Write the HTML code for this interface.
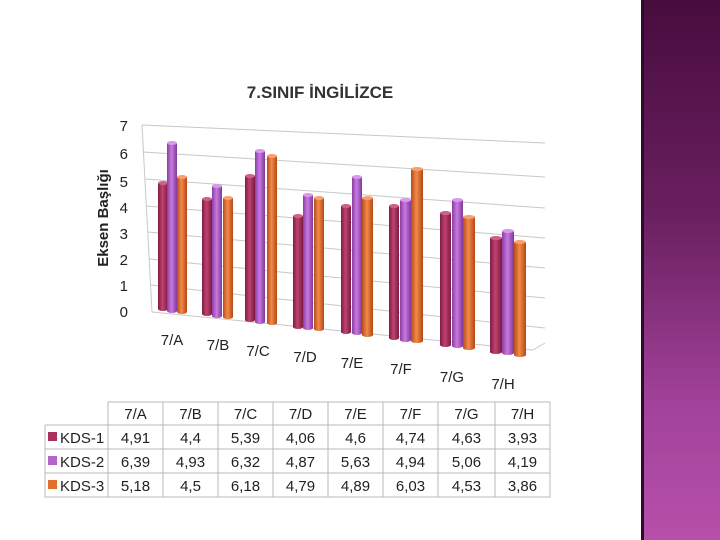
<!DOCTYPE html>
<html><head><meta charset="utf-8"><style>
body{margin:0;width:720px;height:540px;overflow:hidden;background:#fff;font-family:"Liberation Sans",sans-serif}
.side{position:absolute;left:641px;top:0;width:79px;height:540px;background:linear-gradient(#480c3e,#6a2060 40%,#a2429a 75%,#b650aa);border-left:3px solid #2f0a2a}
svg{position:absolute;left:0;top:0}
</style></head><body>
<svg width="720" height="540" viewBox="0 0 720 540">
<defs>
<linearGradient id="r" x1="0" x2="1"><stop offset="0" stop-color="#7e1c44"/><stop offset=".45" stop-color="#c24270"/><stop offset="1" stop-color="#7a1a40"/></linearGradient>
<linearGradient id="p" x1="0" x2="1"><stop offset="0" stop-color="#8a3ca0"/><stop offset=".45" stop-color="#c97ae0"/><stop offset="1" stop-color="#823898"/></linearGradient>
<linearGradient id="o" x1="0" x2="1"><stop offset="0" stop-color="#b84c18"/><stop offset=".45" stop-color="#f28a48"/><stop offset="1" stop-color="#b44816"/></linearGradient>
</defs>
<text x="320" y="98" text-anchor="middle" font-size="17" font-weight="bold" fill="#333">7.SINIF İNGİLİZCE</text>
<text transform="translate(108,218) rotate(-90)" text-anchor="middle" font-size="15" font-weight="bold" fill="#222">Eksen Başlığı</text>
<g stroke="#c8c8c8" stroke-width="1" fill="none">
<polyline points="152,312 533,350 545,343"/>
<line x1="142" y1="125" x2="545" y2="143"/>
<line x1="143" y1="152" x2="545" y2="177"/>
<line x1="145" y1="179" x2="545" y2="208"/>
<line x1="146" y1="206" x2="545" y2="238"/>
<line x1="148" y1="232" x2="545" y2="268"/>
<line x1="149" y1="259" x2="545" y2="298"/>
<line x1="151" y1="285" x2="545" y2="328"/>
<line x1="142" y1="125" x2="152" y2="312"/>
</g>
<g font-size="15" fill="#222" text-anchor="end">
<text x="128" y="131">7</text><text x="128" y="159">6</text><text x="128" y="187">5</text><text x="128" y="213">4</text><text x="128" y="239">3</text><text x="128" y="265">2</text><text x="128" y="291">1</text><text x="128" y="317">0</text>
</g>
<g id="bars"></g>
<g font-size="15" fill="#222" text-anchor="middle">
<text x="172" y="345">7/A</text><text x="218" y="350">7/B</text><text x="258" y="356">7/C</text><text x="305" y="362">7/D</text><text x="352" y="368">7/E</text><text x="401" y="374">7/F</text><text x="452" y="382">7/G</text><text x="503" y="389">7/H</text>
</g>
<g stroke="#b8b8b8" fill="none">
<rect x="108" y="402" width="442" height="95"/>
<line x1="45" y1="425" x2="550" y2="425"/><line x1="45" y1="449" x2="550" y2="449"/><line x1="45" y1="473" x2="550" y2="473"/>
<polyline points="45,425 45,497 108,497"/>
<line x1="163" y1="402" x2="163" y2="497"/><line x1="218" y1="402" x2="218" y2="497"/><line x1="273" y1="402" x2="273" y2="497"/><line x1="328" y1="402" x2="328" y2="497"/><line x1="383" y1="402" x2="383" y2="497"/><line x1="438" y1="402" x2="438" y2="497"/><line x1="495" y1="402" x2="495" y2="497"/>
</g>
<rect x="48" y="432" width="9" height="9" fill="#a8325e"/>
<rect x="48" y="456" width="9" height="9" fill="#b564cc"/>
<rect x="48" y="480" width="9" height="9" fill="#e0702e"/>
<g font-size="15" fill="#222">
<text x="60" y="443">KDS-1</text><text x="60" y="467">KDS-2</text><text x="60" y="491">KDS-3</text>
</g>
<g font-size="15" fill="#222" text-anchor="middle" id="tbl"></g>
</svg>
<div class="side"></div>
<script>
var B=[
[158,168,183,309,'r'],[167,177,143,311,'p'],[177,187,177,312,'o'],
[202,212,199,314,'r'],[212,222,186,316,'p'],[223,233,198,317,'o'],
[245,255,176,320,'r'],[255,265,151,322,'p'],[267,277,156,323,'o'],
[293,303,216,327,'r'],[303,313,195,328,'p'],[314,324,198,329,'o'],
[341,351,206,332,'r'],[352,362,177,333,'p'],[362,373,198,335,'o'],
[389,399,206,338,'r'],[400,411,200,340,'p'],[411,423,169,341,'o'],
[440,451,213,345,'r'],[452,463,200,346,'p'],[463,475,217,348,'o'],
[490,502,238,352,'r'],[502,514,231,353,'p'],[514,526,242,355,'o']];
var caps={r:'#d0608a',p:'#d898ec',o:'#f6a070'};
var s='';B.forEach(function(b){var w=b[1]-b[0],cx=(b[0]+b[1])/2;
s+='<rect x="'+b[0]+'" y="'+b[2]+'" width="'+w+'" height="'+(b[3]-b[2])+'" fill="url(#'+b[4]+')"/>';
s+='<ellipse cx="'+cx+'" cy="'+b[3]+'" rx="'+w/2+'" ry="2" fill="url(#'+b[4]+')"/>';
s+='<ellipse cx="'+cx+'" cy="'+b[2]+'" rx="'+w/2+'" ry="2" fill="'+caps[b[4]]+'"/>';});
document.getElementById('bars').innerHTML=s;
var cols=[108,163,218,273,328,383,438,495,550];
var rows=[['7/A','7/B','7/C','7/D','7/E','7/F','7/G','7/H'],
['4,91','4,4','5,39','4,06','4,6','4,74','4,63','3,93'],
['6,39','4,93','6,32','4,87','5,63','4,94','5,06','4,19'],
['5,18','4,5','6,18','4,79','4,89','6,03','4,53','3,86']];
var ys=[419,443,467,491],t='';
rows.forEach(function(r,i){r.forEach(function(v,j){t+='<text x="'+(cols[j]+cols[j+1])/2+'" y="'+ys[i]+'">'+v+'</text>';});});
document.getElementById('tbl').innerHTML=t;
</script>
</body></html>
